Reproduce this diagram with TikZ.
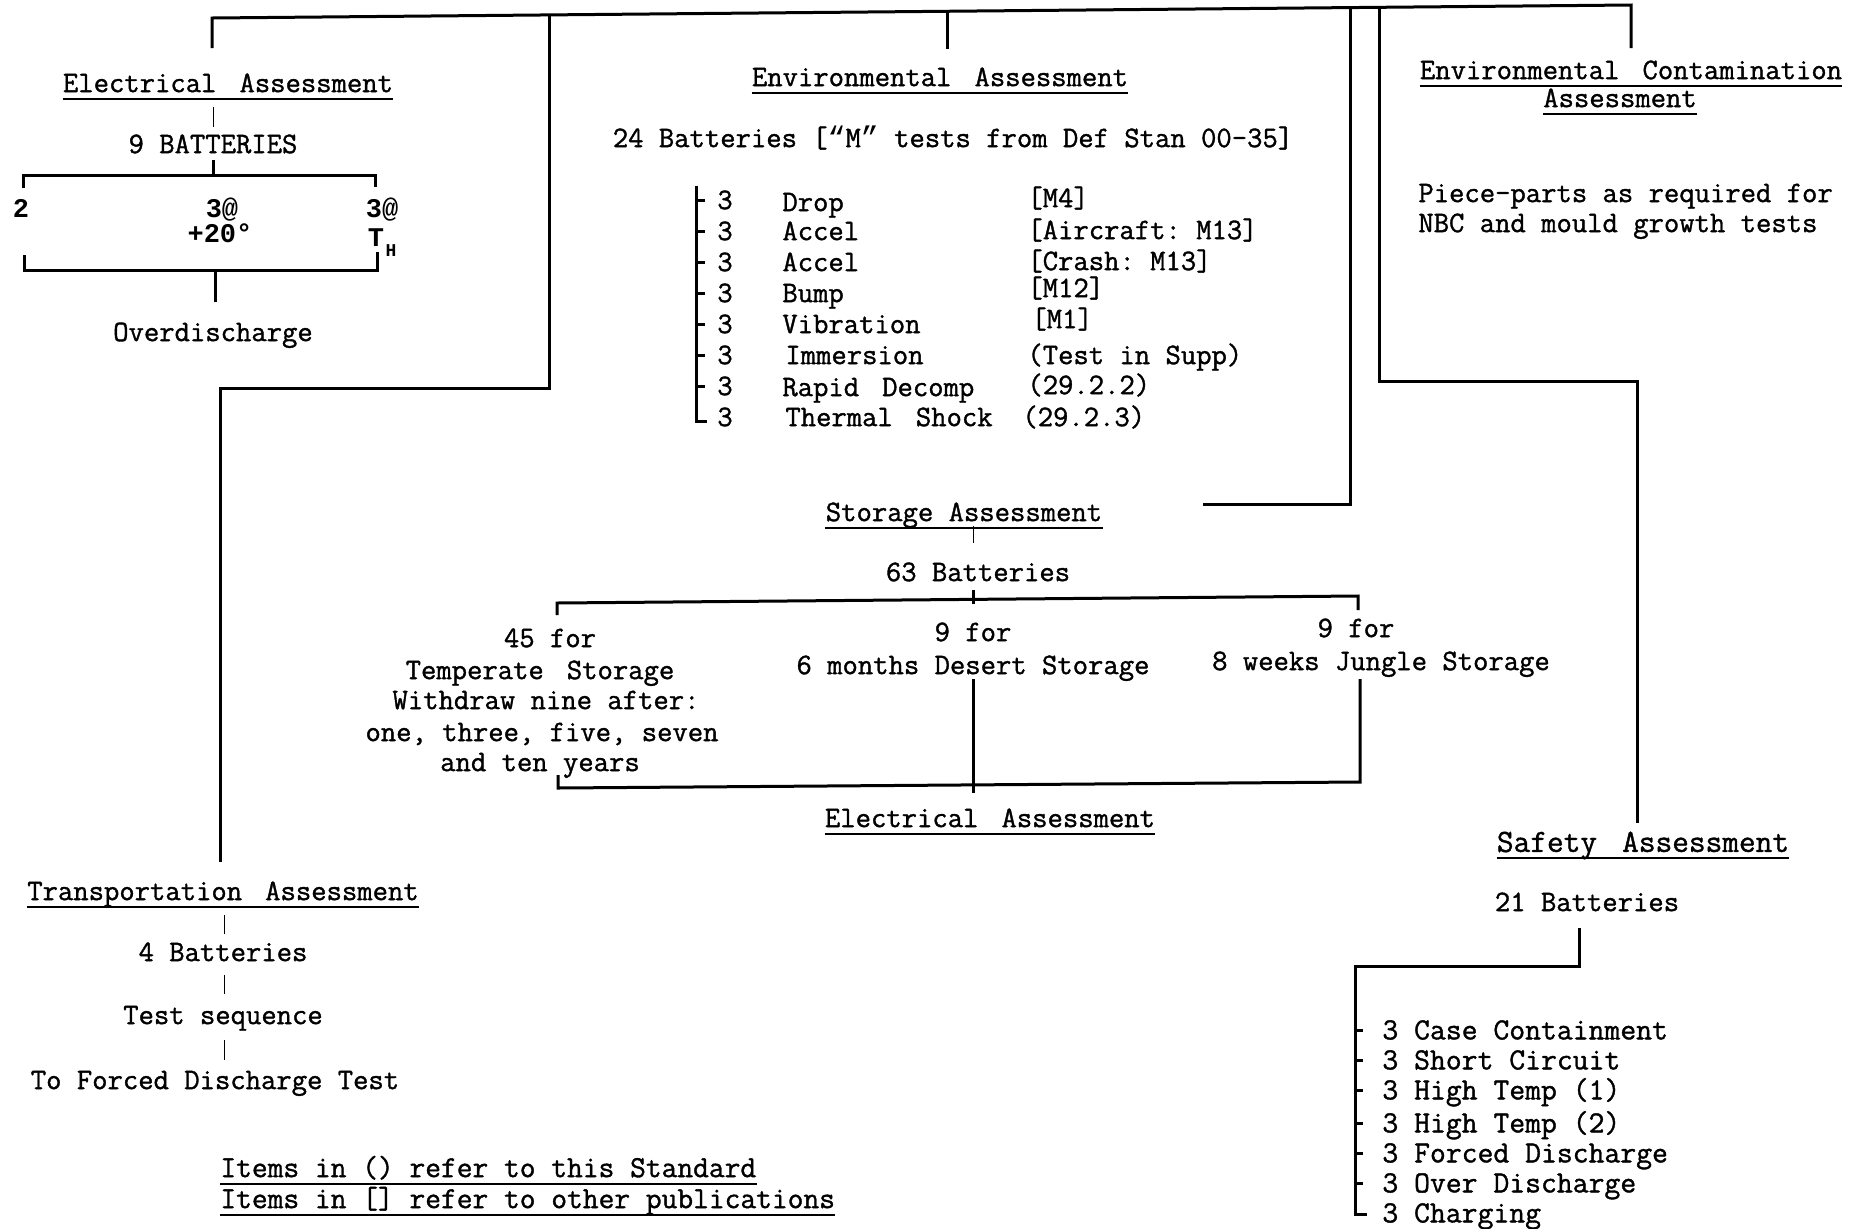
\documentclass[tikz,border=0pt]{standalone}
\usepackage{fontspec}
\setmonofont{Latin Modern Mono}[FakeBold=1.2]
\newfontfamily\bmono{Liberation Mono}
\usetikzlibrary{calc}
\newcommand\gp{\ \hspace{0.26em}}
\newcommand\ulof[1]{\draw[ul] ($(#1.south west)+(0,6)$) -- ($(#1.south east)+(0,6)$);}
\tikzset{
  txt/.style={inner sep=0pt, text height=9.1pt, text depth=0pt, font=\ttfamily\fontsize{14.9}{17}\selectfont},
  big/.style={txt, text height=9.9pt, font=\ttfamily\fontsize{16.2}{18}\selectfont},
  itm/.style={txt, text height=9.4pt, font=\ttfamily\fontsize{15.4}{17}\selectfont},
  foot/.style={txt, font=\ttfamily\fontsize{15.3}{17}\selectfont},
  bld/.style={txt, text height=9pt, font=\bmono\bfseries\fontsize{13.5}{16}\selectfont},
  sub/.style={txt, text height=6pt, font=\bmono\bfseries\fontsize{9}{10}\selectfont},
  wire/.style={line width=1.5pt, line join=miter},
  tiny/.style={line width=0.5pt},
  ul/.style={line width=1pt},
}
\begin{document}
\begin{tikzpicture}[x=0.5pt,y=-0.5pt]
\useasboundingbox (0,0) rectangle (1860,1228);

% ---------- main bus and branches ----------
\coordinate (busL) at (212,18);
\coordinate (busR) at (1631,5);
\coordinate (jTr) at (549,14.9);
\coordinate (jEnv) at (947,11.3);
\coordinate (jSt) at (1350,7.6);
\coordinate (jSa) at (1379,7.3);
\draw[wire] (212,48) -- (busL) -- (busR) -- (1631,48);
\draw[wire] (jEnv) -- (947,49);
\draw[wire] (jTr) -- (549,388) -- (220,388) -- (220,862);
\draw[wire] (jSt) -- (1350,504) -- (1203,504);
\draw[wire] (jSa) -- (1379,381) -- (1637,381) -- (1637,823);

% ---------- Electrical assessment (top left) ----------
\node[txt] (eaT) at (228,83) {Electrical\gp Assessment};
\ulof{eaT}
\draw[tiny] (213,107) -- (213,127);
\node[txt] (e9) at (213,144) {9 BATTERIES};
\draw[wire] (213,160) -- (213,175);
\draw[wire] (23,188) -- (23,175) -- (375,175) -- (375,187);
\node[bld] (e2) at (21,208) {2};
\node[bld] (e3a) at (222,208) {3@};
\node[bld] (e20) at (220,233) {+20°};
\node[bld] (e3b) at (382,208) {3@};
\node[bld] (eT) at (376,237) {T};
\node[sub] (eH) at (391,250) {H};
\draw[wire] (24,255) -- (24,270) -- (377,270) -- (377,252);
\draw[wire] (215,270) -- (215,302);
\node[txt] (eOD) at (213,332) {Overdischarge};

% ---------- Environmental assessment ----------
\node[txt] (envT) at (940,77) {Environmental\gp Assessment};
\ulof{envT}
\node[txt] (env24) at (953,138) {24 Batteries [{\bmono “}M{\bmono ”} tests from Def Stan 00-35]};
\draw[wire] (696,186) -- (696,421) -- (707,421);
\foreach \yy in {200,231,262,293,324,355,386}
  \draw[wire] (696,\yy) -- (705,\yy);
\foreach \yy [count=\i] in {200,231,262,293,324,355,386,417}
  \node[txt] (envN\i) at (725,\yy) {3};
\node[txt,anchor=west] (envA1) at (782,202) {Drop};
\node[txt,anchor=west] (envA2) at (782,231) {Accel};
\node[txt,anchor=west] (envA3) at (782,262) {Accel};
\node[txt,anchor=west] (envA4) at (782,293) {Bump};
\node[txt,anchor=west] (envA5) at (782,324) {Vibration};
\node[txt,anchor=west] (envA6) at (785,355) {Immersion};
\node[txt,anchor=west] (envA7) at (782,387) {Rapid\gp Decomp};
\node[txt,anchor=west] (envA8) at (785,417) {Thermal\gp Shock};
\node[txt,anchor=west] (envR1) at (1027,198) {[M4]};
\node[txt,anchor=west] (envR2) at (1027,230) {[Aircraft: M13]};
\node[txt,anchor=west] (envR3) at (1027,261) {[Crash: M13]};
\node[txt,anchor=west] (envR4) at (1027,288) {[M12]};
\node[txt,anchor=west] (envR5) at (1031,319) {[M1]};
\node[txt,anchor=west] (envR6) at (1027,355) {(Test in Supp)};
\node[txt,anchor=west] (envR7) at (1027,385) {(29.2.2)};
\node[txt,anchor=west] (envR8) at (1022,417) {(29.2.3)};

% ---------- Environmental contamination ----------
\node[txt] (ecT1) at (1631,70) {Environmental\gp Contamination};
\ulof{ecT1}
\node[txt] (ecT2) at (1620,98) {Assessment};
\ulof{ecT2}
\node[txt,anchor=west] (ecP1) at (1418,193) {Piece-parts as required for};
\node[txt,anchor=west] (ecP2) at (1418,223) {NBC and mould growth tests};

% ---------- Storage assessment ----------
\node[txt] (stT) at (964,512) {Storage Assessment};
\ulof{stT}
\draw[tiny] (973,526) -- (973,543);
\node[txt] (st63) at (978,572) {63 Batteries};
\draw[wire] (973,590) -- (973,604);
\draw[wire] (557,615) -- (557,603) -- (1358,596) -- (1358,610);
\node[txt] (stA1) at (550,638) {45 for};
\node[txt] (stA2) at (540,670) {Temperate\gp Storage};
\node[txt] (stA3) at (546,700) {Withdraw nine after:};
\node[txt] (stA4) at (542,732) {one, three, five, seven};
\node[txt] (stA5) at (540,762) {and ten years};
\node[txt] (stB1) at (973,632) {9 for};
\node[txt] (stB2) at (973,665) {6 months Desert Storage};
\node[txt] (stC1) at (1356,628) {9 for};
\node[txt] (stC2) at (1381,661) {8 weeks Jungle Storage};
\draw[wire] (558,775) -- (558,788) -- (1360,782) -- (1360,679);
\draw[wire] (973,679) -- (973,793);
\node[txt] (stE) at (990,818) {Electrical\gp Assessment};
\ulof{stE}

% ---------- Transportation assessment ----------
\node[txt] (trT) at (223,891) {Transportation\gp Assessment};
\ulof{trT}
\draw[tiny] (224,915) -- (224,934);
\node[txt] (tr4) at (223,952) {4 Batteries};
\draw[tiny] (224,975) -- (224,994);
\node[txt] (trS) at (223,1015) {Test sequence};
\draw[tiny] (224,1040) -- (224,1060);
\node[txt] (trF) at (215,1080) {To Forced Discharge Test};

% ---------- footnotes ----------
\node[foot,anchor=west] (fn1) at (220,1168) {Items in () refer to this Standard};
\ulof{fn1}
\node[foot,anchor=west] (fn2) at (220,1199) {Items in [] refer to other publications};
\ulof{fn2}

% ---------- Safety assessment ----------
\node[big] (saT) at (1643,842) {Safety\gp Assessment};
\ulof{saT}
\node[txt] (sa21) at (1587,902) {21 Batteries};
\draw[wire] (1579,928) -- (1579,966) -- (1355,966) -- (1355,1214) -- (1367,1214);
\foreach \yy in {1030,1060,1090,1123,1153,1183}
  \draw[wire] (1355,\yy) -- (1363,\yy);
\node[itm,anchor=west] (saI1) at (1382,1030) {3 Case Containment};
\node[itm,anchor=west] (saI2) at (1382,1060) {3 Short Circuit};
\node[itm,anchor=west] (saI3) at (1382,1090) {3 High Temp (1)};
\node[itm,anchor=west] (saI4) at (1382,1123) {3 High Temp (2)};
\node[itm,anchor=west] (saI5) at (1382,1153) {3 Forced Discharge};
\node[itm,anchor=west] (saI6) at (1382,1183) {3 Over Discharge};
\node[itm,anchor=west] (saI7) at (1382,1213) {3 Charging};
\end{tikzpicture}
\end{document}
